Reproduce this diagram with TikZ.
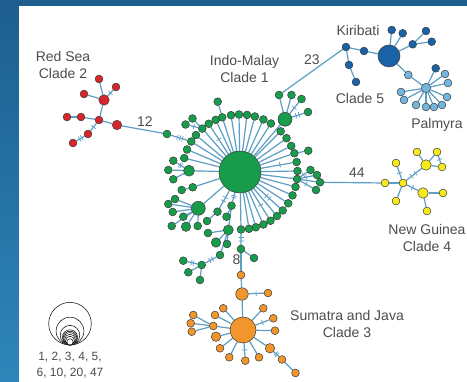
\documentclass[tikz,border=0pt]{standalone}
\usepackage{fontspec}
\setmainfont{Liberation Sans}
\usetikzlibrary{calc,backgrounds}
\pgfdeclarelayer{panel}
\pgfsetlayers{panel,background,main}
\definecolor{ec}{HTML}{5D9EC4}
\definecolor{ol}{HTML}{3A3A3A}
\definecolor{gc}{HTML}{179C4C}
\definecolor{rc}{HTML}{D7262B}
\definecolor{bc}{HTML}{1A62A8}
\definecolor{pc}{HTML}{72B6DD}
\definecolor{yc}{HTML}{F6EA1A}
\definecolor{oc}{HTML}{F0962C}
\definecolor{tc}{HTML}{4D4D4D}
\definecolor{topblue}{HTML}{1D5E8F}
\definecolor{botblue}{HTML}{2E86BA}
\begin{document}
\begin{tikzpicture}[x=1pt,y=-1pt,
  edge/.style={draw=ec,line width=1.2pt},
  tk/.style={sloped,draw=ec,rectangle,minimum width=0pt,minimum height=5.5pt,inner sep=0pt,line width=0.7pt},
  nd/.style={circle,draw=ol,line width=0.5pt,inner sep=0pt,minimum size=7.8pt},
  gn/.style={nd,fill=gc}, rn/.style={nd,fill=rc}, bn/.style={nd,fill=bc},
  pn/.style={nd,fill=pc}, yn/.style={nd,fill=yc}, orn/.style={nd,fill=oc},
  lab/.style={font=\fontsize{14}{16.5}\selectfont,text=tc,align=center,inner sep=0pt},
  leg/.style={circle,draw=black,line width=0.5pt,fill=white,inner sep=0pt},
]
\begin{pgfonlayer}{panel}
\shade[top color=topblue,bottom color=botblue] (0,0) rectangle (467,382);
\fill[white] (19,6) rectangle (467,382);
\end{pgfonlayer}
\useasboundingbox (0,0) rectangle (467,382);

% ---------- green cluster ----------
\node[gn,minimum size=42pt] (H) at (240,172) {};
\foreach \a [count=\i] in {-166,-157,-148,-140,-131,-123,-115,-108,-99,-91,-83,-75,-66,-57.5,-45,-36,-27,-19,-10,-1,7,15,24,33,42,50,58,66,74,81,89}
  \node[gn] (g\i) at ($(H)+(\a:57.5)$) {};
\node[gn,minimum size=14pt] (m1) at (285,119.3) {};
\node[gn] (m1a) at (279,95) {};
\node[gn] (m1b) at (291.5,95) {};
\node[gn] (m1c) at (301.5,99) {};
\node[gn] (m1d) at (308,112) {};
\node[gn,minimum size=11pt] (m2) at (189,170.7) {};
\node[gn] (m2a) at (173.3,160.7) {};
\node[gn] (m2b) at (168.3,170) {};
\node[gn] (m2c) at (173.3,179.3) {};
\node[gn] (l1) at (192.7,187.3) {};
\node[gn] (l1b) at (181.7,190) {};
\node[gn,minimum size=14pt] (m4) at (198.3,208.3) {};
\node[gn] (m4a) at (175,199) {};
\node[gn] (m4b) at (168.3,204) {};
\node[gn] (m4c) at (172.7,212) {};
\node[gn] (m4d) at (183.3,216.7) {};
\node[gn] (m4e) at (171.7,226) {};
\node[gn,minimum size=9.5pt] (m4f) at (186,226.7) {};
\node[gn] (m4g) at (197.7,226) {};
\node[gn] (ga) at (231.5,205.7) {};
\node[gn] (gb) at (226.5,216.7) {};
\node[gn] (gcn) at (217.5,211.7) {};
\node[gn] (gd) at (207,221) {};
\node[gn,minimum size=10pt] (m3) at (228.3,230) {};
\node[gn] (mh) at (208,233) {};
\node[gn,minimum size=9.5pt] (ma) at (216,242.5) {};
\node[gn] (mb) at (227,244) {};
\node[gn] (mc) at (220,255) {};
\node[gn] (gd1) at (201.7,265) {};
\node[gn] (ge1) at (183.3,260.7) {};
\node[gn] (gf1) at (188.3,272.3) {};
\node[gn] (gg1) at (200,280) {};
\node[gn] (bn1) at (241,249) {};
\node[gn] (bn2) at (254,258) {};
\node[gn] (G1) at (167,134) {};
\node[gn] (rt1) at (308.3,150.7) {};
\node[gn] (q1) at (310.5,170) {};
\node[gn] (q2) at (317,175) {};
\node[gn] (q3) at (320,182.3) {};
\node[gn] (q4) at (316,190) {};
\node[gn] (tp1) at (217.7,101.7) {};
\node[gn] (tl1) at (192.5,118.5) {};
\node[gn] (tl2) at (185.5,124.5) {};

% ---------- red cluster ----------
\node[rn] (r1) at (99,79) {};
\node[rn] (r2) at (116,87) {};
\node[rn] (r3) at (84,94) {};
\node[rn,minimum size=10.5pt] (rm) at (104,100) {};
\node[rn] (rh) at (99,120) {};
\node[rn,minimum size=9.5pt] (rb) at (117,125) {};
\node[rn] (r4) at (67,117) {};
\node[rn] (r5) at (81,117) {};
\node[rn] (r6) at (88,134) {};
\node[rn] (r7) at (73,143) {};

% ---------- blue cluster ----------
\node[bn] (k1) at (346,47) {};
\node[bn] (k2) at (364,51) {};
\node[bn,minimum size=22pt] (kb) at (389,56) {};
\node[bn] (k3) at (349,65) {};
\node[bn] (k4) at (356,82) {};
\node[bn] (ka) at (391.7,30) {};
\node[bn] (kbb) at (402.7,33.3) {};
\node[bn] (kc) at (412.7,44.3) {};
\node[bn] (kd) at (426,31) {};
\node[bn] (ke) at (431.7,41.7) {};
\node[pn] (p0) at (408.3,75) {};
\node[pn,minimum size=9.5pt] (P) at (426,88) {};
\node[bn] (pd) at (435.7,68.3) {};
\foreach \x/\y [count=\i] in {445/74,448/83,447/97,442/105,434/107,426/107,416/105,404/100,401/92}
  \node[pn] (pp\i) at (\x,\y) {};

% ---------- yellow cluster ----------
\node[yn] (y1) at (385,183) {};
\node[yn] (yh) at (403,183) {};
\node[yn] (y2) at (396,163) {};
\node[yn] (y3) at (396,201) {};
\node[yn,minimum size=10.5pt] (ym1) at (423,193) {};
\node[yn] (y4) at (443,193) {};
\node[yn] (y5) at (427,211) {};
\node[yn,minimum size=10.5pt] (ym2) at (426,165) {};
\node[yn] (y6) at (417,152) {};
\node[yn] (y7) at (437,152) {};
\node[yn] (y8) at (442,167) {};

% ---------- orange cluster ----------
\node[orn] (o1) at (241,275) {};
\node[orn,minimum size=12.5pt] (om) at (242,294) {};
\node[orn] (o2) at (268,293) {};
\node[orn,minimum size=26pt] (ob) at (243,330) {};
\node[orn] (oa1) at (223.3,308.3) {};
\node[orn] (oa2) at (215,315) {};
\node[orn] (oa3) at (213.3,326) {};
\node[orn] (oa4) at (193.3,315) {};
\node[orn] (oa5) at (190.7,323.3) {};
\node[orn] (oa6) at (191.7,331.7) {};
\node[orn,minimum size=9.5pt] (oa7) at (216,336.7) {};
\node[orn] (oa8) at (220,348.3) {};
\node[orn] (oa9) at (229.3,357.3) {};
\node[orn] (oa10) at (245.3,360.7) {};
\node[orn] (oa11) at (259,357.3) {};
\node[orn,minimum size=9.5pt] (oa12) at (270,348.3) {};
\node[orn] (oa13) at (282,359.5) {};
\node[orn] (oa14) at (295.5,373) {};
\node[orn] (oa15) at (275,330.7) {};
\node[orn] (oa16) at (273.3,318.3) {};
\node[orn] (oa17) at (263.3,308.3) {};

% ---------- edges ----------
\begin{pgfonlayer}{background}
\foreach \i in {1,...,31} \draw[edge] (H) -- (g\i);
\path (H) -- node[tk,pos=.55]{} (g6);
\path (H) -- node[tk,pos=.6]{} (g19);
\path (H) -- node[tk,pos=.45]{} node[tk,pos=.57]{} (g25);
\path (H) -- node[tk,pos=.55]{} (g27);
\draw[edge] (H) -- (m1);
\draw[edge] (m1) -- (m1a);
\draw[edge] (m1) -- (m1b);
\draw[edge] (m1) -- node[tk,pos=.5]{} (m1c);
\draw[edge] (m1) -- node[tk,pos=.35]{} node[tk,pos=.6]{} (m1d);
\draw[edge] (H) -- (m2);
\draw[edge] (m2) -- node[tk,pos=.4]{} node[tk,pos=.6]{} (m2a);
\draw[edge] (m2) -- (m2b);
\draw[edge] (m2) -- (m2c);
\draw[edge] (H) -- (l1);
\draw[edge] (l1) -- (l1b);
\draw[edge] (H) -- (m4);
\foreach \n in {m4a,m4b,m4c,m4d,m4e,m4f,m4g} \draw[edge] (m4) -- (\n);
\draw[edge] (H) -- node[tk,pos=.35]{} node[tk,pos=.55]{} (ga);
\draw[edge] (ga) -- (m3);
\draw[edge] (ga) -- (gb);
\draw[edge] (H) -- node[tk,pos=.4]{} node[tk,pos=.6]{} (gcn);
\draw[edge] (gcn) -- (gd);
\draw[edge] (m3) -- (mh);
\draw[edge] (m3) -- (ma);
\draw[edge] (m3) -- (mb);
\draw[edge] (m3) -- (mc);
\draw[edge] (mc) -- node[tk,pos=.35]{} node[tk,pos=.6]{} (gd1);
\draw[edge] (gd1) -- node[tk,pos=.4]{} node[tk,pos=.6]{} (ge1);
\draw[edge] (gd1) -- (gf1);
\draw[edge] (gd1) -- (gg1);
\draw[edge] (g31) -- node[tk,pos=.35]{} node[tk,pos=.65]{} (bn1);
\draw[edge] (bn1) -- (bn2);
\draw[edge] (bn1) -- (o1);
\draw[edge] (g3) -- node[tk,pos=.3]{} node[tk,pos=.45]{} node[tk,pos=.6]{} (G1);
\draw[edge] (rb) -- (G1);
\draw[edge] (g18) -- (rt1);
\draw[edge] (g21) -- node[tk,pos=.45]{} (q1);
\draw[edge] (g21) -- node[tk,pos=.45]{} (q2);
\draw[edge] (g21) -- (q3);
\draw[edge] (g21) -- node[tk,pos=.45]{} (q4);
\draw[edge] (q3) -- (y1);
\draw[edge] (g8) -- (tp1);
\draw[edge] (g5) -- (tl1);
\draw[edge] (g5) -- node[tk,pos=.5]{} (tl2);
% red
\draw[edge] (r1) -- (rm);
\draw[edge] (r2) -- node[tk,pos=.5]{} (rm);
\draw[edge] (r3) -- (rm);
\draw[edge] (rm) -- (rh);
\draw[edge] (r4) -- (r5);
\draw[edge] (r5) -- (rh);
\draw[edge] (rh) -- (rb);
\draw[edge] (rh) -- node[tk,pos=.5]{} (r6);
\draw[edge] (r6) -- node[tk,pos=.35]{} node[tk,pos=.6]{} (r7);
% blue
\draw[edge] (m1a) -- (k1);
\draw[edge] (k1) -- (k2);
\draw[edge] (k2) -- (kb);
\draw[edge] (k1) -- (k3);
\draw[edge] (k3) -- (k4);
\draw[edge] (kb) -- (ka);
\draw[edge] (kb) -- (kbb);
\draw[edge] (kb) -- (kc);
\draw[edge] (kc) -- (kd);
\draw[edge] (kc) -- (ke);
\draw[edge] (kb) -- (p0);
\draw[edge] (p0) -- (P);
\draw[edge] (P) -- (pd);
\foreach \i in {1,...,9} \draw[edge] (P) -- (pp\i);
% yellow
\draw[edge] (y1) -- (yh);
\draw[edge] (yh) -- node[tk,pos=.5]{} (y2);
\draw[edge] (yh) -- (y3);
\draw[edge] (yh) -- node[tk,pos=.5]{} (ym1);
\draw[edge] (ym1) -- (y4);
\draw[edge] (ym1) -- (y5);
\draw[edge] (yh) -- node[tk,pos=.35]{} node[tk,pos=.6]{} (ym2);
\draw[edge] (ym2) -- (y6);
\draw[edge] (ym2) -- (y7);
\draw[edge] (ym2) -- (y8);
\draw[edge] (y7) -- node[tk,pos=.5]{} (y8);
% orange
\draw[edge] (o1) -- (om);
\draw[edge] (om) -- node[tk,pos=.5]{} (o2);
\draw[edge] (om) -- (ob);
\foreach \n in {oa1,oa2,oa3,oa7,oa8,oa9,oa11,oa12,oa15,oa17} \draw[edge] (ob) -- (\n);
\draw[edge] (ob) -- node[tk,pos=.5]{} (oa10);
\draw[edge] (ob) -- node[tk,pos=.5]{} (oa16);
\draw[edge] (oa3) -- (oa4);
\draw[edge] (oa3) -- (oa5);
\draw[edge] (oa3) -- (oa6);
\draw[edge] (oa12) -- node[tk,pos=.4]{} node[tk,pos=.65]{} (oa13);
\draw[edge] (oa13) -- (oa14);
\end{pgfonlayer}

% ---------- labels ----------
\node[lab] (tRed) at (63,65) {Red Sea\\Clade 2};
\node[lab] (tIndo) at (244.5,69) {Indo-Malay\\Clade 1};
\node[lab] (tKir) at (358,30) {Kiribati};
\node[lab] (tC5) at (360,98) {Clade 5};
\node[lab] (tPal) at (437,125) {Palmyra};
\node[lab] (tNG) at (427,238) {New Guinea\\Clade 4};
\node[lab] (tSJ) at (347,324) {Sumatra and Java\\Clade 3};
\node[lab] (n23) at (312,60) {23};
\node[lab] (n12) at (145,122) {12};
\node[lab] (n44) at (357,173) {44};
\node[lab] (n8) at (236.5,260) {8};

% ---------- legend ----------
\foreach \r [count=\i] in {21.3,13.9,9.8,7.6,6.9,6.2,5.4,4.4,3.1}
  \node[leg,minimum size=2*\r pt] (lg\i) at (70,345-\r) {};
\node[lab,font=\fontsize{12}{16}\selectfont] (tleg) at (70,365) {1, 2, 3, 4, 5,\\6, 10, 20, 47};
\end{tikzpicture}
\end{document}
